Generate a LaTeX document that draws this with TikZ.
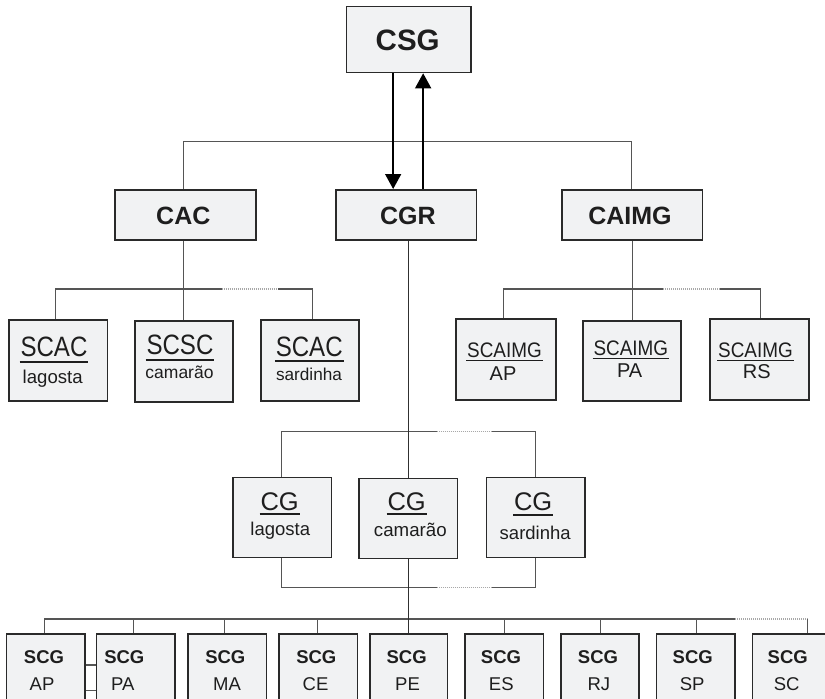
\documentclass[tikz,border=0pt]{standalone}
\usepackage{fontspec}
\setmainfont{Liberation Sans}
\usepackage{graphicx}
\usetikzlibrary{arrows.meta}
\definecolor{boxfill}{HTML}{F1F2F3}
\definecolor{boxline}{HTML}{2A2A2A}
\definecolor{connc}{HTML}{555555}
\definecolor{mainc}{HTML}{303030}
\definecolor{dotc}{HTML}{A8A8A8}
\definecolor{txt}{HTML}{1E1E1E}
\newsavebox\ulbox
\newcommand\ulx[3]{\sbox\ulbox{#3}\rlap{\hspace*{-1pt}\rule[-#1]{\dimexpr\wd\ulbox+2pt\relax}{#2}}\usebox\ulbox}
\newcommand\fsz[1]{\fontsize{#1}{#1}\selectfont}
\newcommand\orgnode[5]{\node[orgbox, minimum width=#4pt, minimum height=#5pt] (#1) at (#2,#3) {};}
\begin{document}
\begin{tikzpicture}[x=1pt,y=-1pt,
  orgbox/.style={draw=boxline, fill=boxfill, line width=1.6pt, inner sep=0pt, anchor=north west},
  conn/.style={draw=connc, line width=1.1pt},
  mainln/.style={draw=mainc, line width=1.5pt},
  dotln/.style={draw=dotc, line width=1.1pt, dash pattern=on 1pt off 1pt},
  arr/.style={draw=black, line width=1.5pt, -{Triangle[length=15pt,width=16pt]}},
  lbl/.style={anchor=base, inner sep=0pt, text=txt},
]
\useasboundingbox (0,0) rectangle (825,699);
\clip (0,0) rectangle (825,699);

% ---------- boxes ----------
\orgnode{csg}{345.7}{5.7}{124.3}{66}
\orgnode{cac}{114.3}{189}{140.7}{50}
\orgnode{cgr}{335}{189}{140.7}{50}
\orgnode{caimg}{561}{189}{140.7}{50}
\orgnode{scac1}{8.3}{319.3}{98.4}{80.7}
\orgnode{scsc}{134}{320}{98.3}{81}
\orgnode{scac3}{260}{319.3}{98.3}{80.7}
\orgnode{sap}{455}{318.3}{100}{81}
\orgnode{spa}{582.3}{320}{97.7}{80}
\orgnode{srs}{709.3}{318.3}{99}{81}
\orgnode{cg1}{232.3}{476.7}{98.4}{80}
\orgnode{cg2}{358.3}{477.7}{98.4}{80}
\orgnode{cg3}{485.7}{476.7}{98.3}{80}
\orgnode{gap}{5.7}{633.3}{78.3}{90}
\orgnode{gpa}{95.7}{633.3}{78.3}{90}
\orgnode{gma}{187.3}{633.3}{78.3}{90}
\orgnode{gce}{278.3}{633.3}{78.3}{90}
\orgnode{gpe}{369}{633.3}{77.7}{90}
\orgnode{ges}{464.3}{633.3}{78.3}{90}
\orgnode{grj}{560}{633.3}{78.3}{90}
\orgnode{gsp}{655.7}{633.3}{78.3}{90}
\orgnode{gsc}{751.7}{633.3}{78.3}{90}

% ---------- connectors ----------
\coordinate (topbus) at (407.5,141.7);
\draw[conn] ([xshift=-2pt]cac.north) |- (topbus) -| ([xshift=-0.3pt]caimg.north);

\draw[conn] ([xshift=-2pt]cac.south) -- ([xshift=-2pt]cac.south |- scsc.north);
\coordinate (cacd1) at (221.7,289);
\coordinate (cacd2) at (278.3,289);
\draw[conn] ([xshift=-2.5pt]scac1.north) |- (cacd1);
\draw[dotln] (cacd1) -- (cacd2);
\draw[conn] (cacd2) -| ([xshift=2.5pt]scac3.north);

\draw[conn] (caimg.south) -- (caimg.south |- spa.north);
\coordinate (caid1) at (663.3,289);
\coordinate (caid2) at (720,289);
\draw[conn] ([xshift=-2.3pt]sap.north) |- (caid1);
\draw[dotln] (caid1) -- (caid2);
\draw[conn] (caid2) -| ([xshift=0.5pt]srs.north);

\coordinate (cgd1) at (436.7,431.7);
\coordinate (cgd2) at (491.7,431.7);
\draw[conn] ([xshift=-0.8pt]cg1.north) |- (cgd1);
\draw[dotln] (cgd1) -- (cgd2);
\draw[conn] (cgd2) -| (cg3.north);
\coordinate (cgd3) at (436.7,587.3);
\coordinate (cgd4) at (491.7,587.3);
\draw[conn] ([xshift=-0.8pt]cg1.south) |- (cgd3);
\draw[dotln] (cgd3) -- (cgd4);
\draw[conn] (cgd4) -| (cg3.south);

\coordinate (bd1) at (735,619);
\coordinate (bd2) at (807.3,619);
\draw[conn] ([xshift=-1.5pt]gap.north) |- (bd1);
\draw[dotln] (bd1) -- (bd2);
\draw[conn] (bd2) -- (bd2 |- gsc.north);
\foreach \n/\s in {gpa/-2.2, gma/-2.5, gce/-0.8, ges/0.5, grj/0.8, gsp/0.8}
  \draw[conn] ([xshift=\s pt]\n.north) -- ([xshift=\s pt]\n.north |- bd1);
\draw[conn] ([yshift=-31.7pt]gap.north east) -- ([yshift=-31.7pt]gpa.north west);
\draw[conn] ([yshift=-57.4pt]gap.north east) -- ([yshift=-57.4pt]gpa.north west);

\draw[mainln] (cg2.north |- cgr.south) -- (cg2.north);
\draw[mainln] (cg2.south) -- (cg2.south |- gpe.north);

\draw[arr] ([xshift=-15.5pt]csg.south) -- ([xshift=-15.5pt]csg.south |- cgr.north);
\draw[arr] ([xshift=14.5pt]csg.south |- cgr.north) -- ([xshift=14.5pt]csg.south);

% ---------- texts ----------
\node[lbl, font=\fsz{29.5}\bfseries] (t-csg) at (407.7,50) {CSG};
\node[lbl, font=\fsz{25}\bfseries] (t-cac) at (183.3,224.3) {CAC};
\node[lbl, font=\fsz{25}\bfseries] (t-cgr) at (407.8,224.3) {CGR};
\node[lbl, font=\fsz{25}\bfseries] (t-caimg) at (630,224.3) {CAIMG};

\node[lbl, font=\fsz{28}] (t-scac1a) at (54,356) {\ulx{6.6pt}{1.8pt}{\scalebox{0.86}[1]{SCAC}}};
\node[lbl, font=\fsz{18.6}] (t-scac1b) at (52.7,383) {lagosta};
\node[lbl, font=\fsz{28}] (t-scsca) at (180,354.5) {\ulx{6.5pt}{1.8pt}{\scalebox{0.86}[1]{SCSC}}};
\node[lbl, font=\fsz{17.5}] (t-scscb) at (179.5,378.3) {camarão};
\node[lbl, font=\fsz{28}] (t-scac3a) at (309.2,356) {\ulx{6pt}{1.8pt}{\scalebox{0.86}[1]{SCAC}}};
\node[lbl, font=\fsz{17.2}] (t-scac3b) at (309,380.7) {sardinha};

\node[lbl, font=\fsz{21}] (t-sapa) at (504.5,357) {\ulx{4.3pt}{1.8pt}{\scalebox{0.9}[1]{SCAIMG}}};
\node[lbl, font=\fsz{20}] (t-sapb) at (503,380) {AP};
\node[lbl, font=\fsz{21}] (t-spaa) at (630.8,355) {\ulx{4.3pt}{1.8pt}{\scalebox{0.9}[1]{SCAIMG}}};
\node[lbl, font=\fsz{20}] (t-spab) at (629.7,377.5) {PA};
\node[lbl, font=\fsz{21}] (t-srsa) at (755.5,357) {\ulx{4.3pt}{1.8pt}{\scalebox{0.9}[1]{SCAIMG}}};
\node[lbl, font=\fsz{20}] (t-srsb) at (756.8,378) {RS};

\node[lbl, font=\fsz{25.5}] (t-cg1a) at (279.7,510) {\ulx{4.5pt}{2pt}{CG}};
\node[lbl, font=\fsz{18.5}] (t-cg1b) at (280.3,535.7) {lagosta};
\node[lbl, font=\fsz{25.5}] (t-cg2a) at (406.7,510) {\ulx{5pt}{2pt}{CG}};
\node[lbl, font=\fsz{18.7}] (t-cg2b) at (410.3,536.7) {camarão};
\node[lbl, font=\fsz{25.5}] (t-cg3a) at (533.2,510.7) {\ulx{5.5pt}{2pt}{CG}};
\node[lbl, font=\fsz{18.5}] (t-cg3b) at (535.2,539) {sardinha};

\foreach \nm/\xa/\xb/\st in {ap/44/42/AP, pa/124.3/122.7/PA, ma/225.3/227/MA, ce/316.3/315.5/CE, pe/406.7/407.5/PE, es/501/501.3/ES, rj/598/598.8/RJ, sp/692.7/692.2/SP, sc/787.7/786.7/SC}{
  \node[lbl, font=\fsz{18.5}\bfseries] (t-\nm a) at (\xa,663) {SCG};
  \node[lbl, font=\fsz{18.5}] (t-\nm b) at (\xb,690.5) {\st};
}
\end{tikzpicture}
\end{document}
